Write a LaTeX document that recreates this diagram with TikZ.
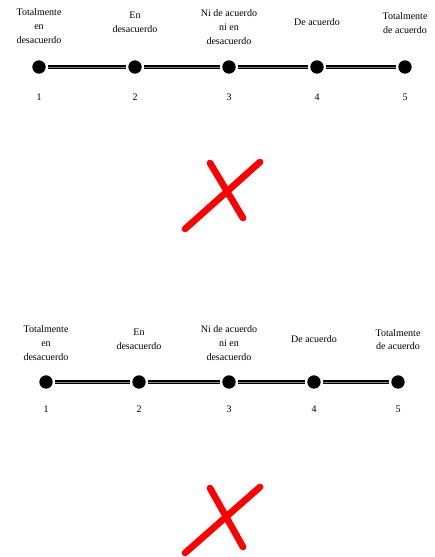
\documentclass[tikz,border=0pt]{standalone}
\usepackage{fontspec}
\setmainfont{Liberation Serif}
\begin{document}
\begin{tikzpicture}[x=0.75pt,y=-0.75pt,font=\fontsize{7.5}{10.2}\selectfont,
  dot/.style={circle,fill=black,inner sep=0pt,minimum size=10pt},
  lbl/.style={align=center,inner sep=0pt},
  bar/.style={draw=black,line width=0.9pt,double=gray,double distance=0.7pt,shorten <=1.5pt,shorten >=1.5pt},
  cross/.style={draw=red,line width=5pt,line cap=round}]
  \useasboundingbox (0,0) rectangle (435,557);

  % top scale
  \foreach \n/\x in {1/39,2/135,3/229,4/317,5/405}{
    \node[dot] (a\n) at (\x,67) {};
    \node (na\n) at (\x,97) {\n};
  }
  \node[lbl] (la1) at (39,26) {Totalmente\\en\\desacuerdo};
  \node[lbl] (la2) at (135,22.5) {En\\desacuerdo};
  \node[lbl] (la3) at (229,27) {Ni de acuerdo\\ni en\\desacuerdo};
  \node[lbl] (la4) at (317,22) {De acuerdo};
  \node[lbl] (la5) at (405,23) {Totalmente\\de acuerdo};
  \draw[bar] (a1) -- (a2);
  \draw[bar] (a2) -- (a3);
  \draw[bar] (a3) -- (a4);
  \draw[bar] (a4) -- (a5);

  % top cross
  \draw[cross] (210,163) -- (243,218);
  \draw[cross] (185,229) -- (260,162);

  % bottom scale
  \foreach \n/\x in {1/46,2/139,3/229,4/314,5/398}{
    \node[dot] (b\n) at (\x,382) {};
    \node (nb\n) at (\x,409) {\n};
  }
  \node[lbl] (lb1) at (46,343) {Totalmente\\en\\desacuerdo};
  \node[lbl] (lb2) at (139,339.5) {En\\desacuerdo};
  \node[lbl] (lb3) at (229,343) {Ni de acuerdo\\ni en\\desacuerdo};
  \node[lbl] (lb4) at (314,339) {De acuerdo};
  \node[lbl] (lb5) at (398,339.5) {Totalmente\\de acuerdo};
  \draw[bar] (b1) -- (b2);
  \draw[bar] (b2) -- (b3);
  \draw[bar] (b3) -- (b4);
  \draw[bar] (b4) -- (b5);

  % bottom cross
  \draw[cross] (210,488) -- (243,547);
  \draw[cross] (185,553) -- (260,487);
\end{tikzpicture}
\end{document}
